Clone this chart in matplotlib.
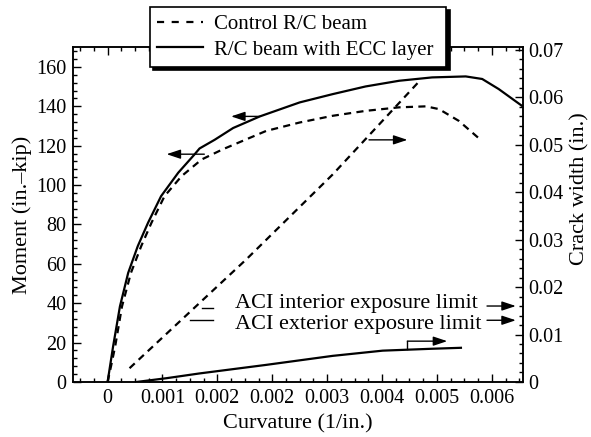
import matplotlib
matplotlib.use('Agg')
import matplotlib.pyplot as plt
from matplotlib.lines import Line2D
from matplotlib.ticker import FixedLocator, MultipleLocator

plt.rcParams['font.family'] = ['Liberation Serif', 'DejaVu Serif']

# moment-curvature, R/C beam with ECC layer (left axis)
ecc_curv = [0, 0.00004, 0.00008, 0.00018, 0.0003, 0.00044, 0.00059, 0.00078,
            0.00103, 0.00127, 0.00134, 0.00156, 0.00183, 0.00222, 0.0028,
            0.00328, 0.00376, 0.00425, 0.00473, 0.00522, 0.00546, 0.0057, 0.00605]
ecc_moment = [0, 9, 18, 38.4, 55.4, 69, 80.9, 94.4, 106.3, 115.7, 118.6, 123,
              129, 134.9, 142, 146.2, 150.1, 153, 154.7, 155.2, 153.9, 148.8, 140]

# moment-curvature, control R/C beam (left axis)
ctrl_curv = [0, 0.00005, 0.00011, 0.00021, 0.00034, 0.00049, 0.00064, 0.00083,
             0.00108, 0.00137, 0.00168, 0.00231, 0.0028, 0.00328, 0.00376,
             0.00425, 0.00464, 0.00483, 0.00512, 0.00544]
ctrl_moment = [0, 8, 18, 38.4, 55.4, 69, 80.9, 94.4, 104.6, 113, 118.2, 127.5,
               131.8, 135.2, 137.7, 139.5, 140, 138.6, 132.6, 122.9]

# crack width (right axis)
ctrl_crack_curv = [0.00032, 0.00202, 0.00328, 0.00454]
ctrl_crack = [0.0029, 0.0258, 0.0437, 0.0633]
ecc_crack_curv = [0.00042, 0.00086, 0.00134, 0.00231, 0.00328, 0.00401, 0.00473, 0.00515]
ecc_crack = [0, 0.0008, 0.0018, 0.0036, 0.0055, 0.0066, 0.0070, 0.0072]

# ACI limits (in.)
aci_interior = 0.016
aci_exterior = 0.013

x_ticks = [0, 0.0008, 0.0016, 0.0024, 0.0032, 0.004, 0.0048, 0.0056]
x_labels = ['0', '0.001', '0.002', '0.002', '0.003', '0.004', '0.005', '0.006']
m_ticks = [0, 20, 40, 60, 80, 100, 120, 140, 160]
w_ticks = [0, 0.01, 0.02, 0.03, 0.04, 0.05, 0.06, 0.07]
w_labels = ['0', '0.01', '0.02', '0.03', '0.04', '0.05', '0.06', '0.07']

FS = 14.5       # tick labels
FS_TXT = 16     # annotations
FS_LAB = 16     # axis labels
DASH = (0, (3.2, 2.4))
ARROW = dict(arrowstyle='-|>,head_length=0.6,head_width=0.2', color='black',
             lw=1.0, mutation_scale=14, shrinkA=0, shrinkB=0)


def arrow(ax, x0, y0, x1, y1):
    ax.annotate('', xy=(x1, y1), xytext=(x0, y0), arrowprops=ARROW)


def main():
    fig = plt.figure(figsize=(5.91, 4.37), dpi=100)
    ax = fig.add_axes([0.124, 0.1259, 0.7604, 0.7659])
    ax2 = ax.twinx()

    line_kw = dict(color='black', lw=1.6, solid_joinstyle='round',
                   dash_joinstyle='round')
    ax.plot(ctrl_curv, ctrl_moment, linestyle=DASH, **line_kw)
    ax.plot(ecc_curv, ecc_moment, **line_kw)
    ax2.plot(ctrl_crack_curv, ctrl_crack, linestyle=DASH, **line_kw)
    ax2.plot(ecc_crack_curv, ecc_crack, **line_kw)

    ax.set_xlim(-0.0005, 0.00605)
    ax.set_ylim(0, 170)
    ax2.set_ylim(0, 0.0705)

    ax.xaxis.set_major_locator(FixedLocator(x_ticks))
    ax.set_xticklabels(x_labels)
    ax.xaxis.set_minor_locator(MultipleLocator(0.0002))
    ax.set_yticks(m_ticks)
    ax.yaxis.set_minor_locator(MultipleLocator(4))
    ax2.set_yticks(w_ticks)
    ax2.set_yticklabels(w_labels)
    ax2.yaxis.set_minor_locator(MultipleLocator(0.002))

    ax.tick_params(which='both', direction='in', top=True, right=False,
                   labelsize=FS, width=1)
    ax.tick_params(which='major', length=6, pad=5)
    ax.tick_params(which='minor', length=3)
    ax2.tick_params(which='both', direction='in', labelsize=FS, width=1)
    ax2.tick_params(which='major', length=6, pad=4)
    ax2.tick_params(which='minor', length=3)
    for a in (ax, ax2):
        for s in a.spines.values():
            s.set_linewidth(1.1)

    ax.set_xlabel('Curvature (1/in.)', fontsize=FS_LAB)
    ax.set_ylabel('Moment (in.–kip)', fontsize=FS_LAB)
    ax2.set_ylabel('Crack width (in.)', fontsize=FS_LAB)
    ax.xaxis.set_label_coords(0.5, -0.095)
    ax.yaxis.set_label_coords(-0.092, 0.5)
    ax2.yaxis.set_label_coords(1.106, 0.579)

    # arrows telling which axis each curve belongs to
    arrow(ax, 0.00222, 134.9, 0.0018, 134.9)
    arrow(ax, 0.00141, 115.7, 0.00086, 115.7)
    arrow(ax2, 0.00381, 0.051, 0.00437, 0.051)
    ax2.plot([0.00437, 0.00437], [0.0069, 0.0086], color='black', lw=1.0)
    arrow(ax2, 0.00437, 0.0086, 0.00495, 0.0086)

    # ACI exposure limits
    ax2.plot([0.00137, 0.00153], [0.01558, 0.01558], color='black', lw=1.0)
    ax2.plot([0.0012, 0.00153], [0.01304, 0.01304], color='black', lw=1.0)
    ax2.text(0.00185, 0.01558, 'ACI interior exposure limit', fontsize=FS_TXT,
             va='baseline')
    ax2.text(0.00185, 0.0112, 'ACI exterior exposure limit', fontsize=FS_TXT,
             va='baseline')
    arrow(ax2, 0.00553, aci_interior, 0.00595, aci_interior)
    arrow(ax2, 0.00553, aci_exterior, 0.00595, aci_exterior)

    handles = [Line2D([], [], color='black', lw=1.6, linestyle=(0, (3.2, 3.4))),
               Line2D([], [], color='black', lw=1.6)]
    leg = fig.legend(handles, ['Control R/C beam', 'R/C beam with ECC layer'],
                     loc='upper left', bbox_to_anchor=(0.2538, 0.847, 0.501, 0.137),
                     mode='expand', borderaxespad=0, borderpad=0.35,
                     labelspacing=0.3, handlelength=2.2, handletextpad=0.5,
                     fontsize=15, fancybox=False, edgecolor='black',
                     framealpha=1,
                     shadow={'color': 'black', 'alpha': 1, 'ox': 2.5, 'oy': -2.5})
    leg.get_frame().set_linewidth(1.2)

    fig.savefig('out.png', dpi=100)


if __name__ == '__main__':
    main()
